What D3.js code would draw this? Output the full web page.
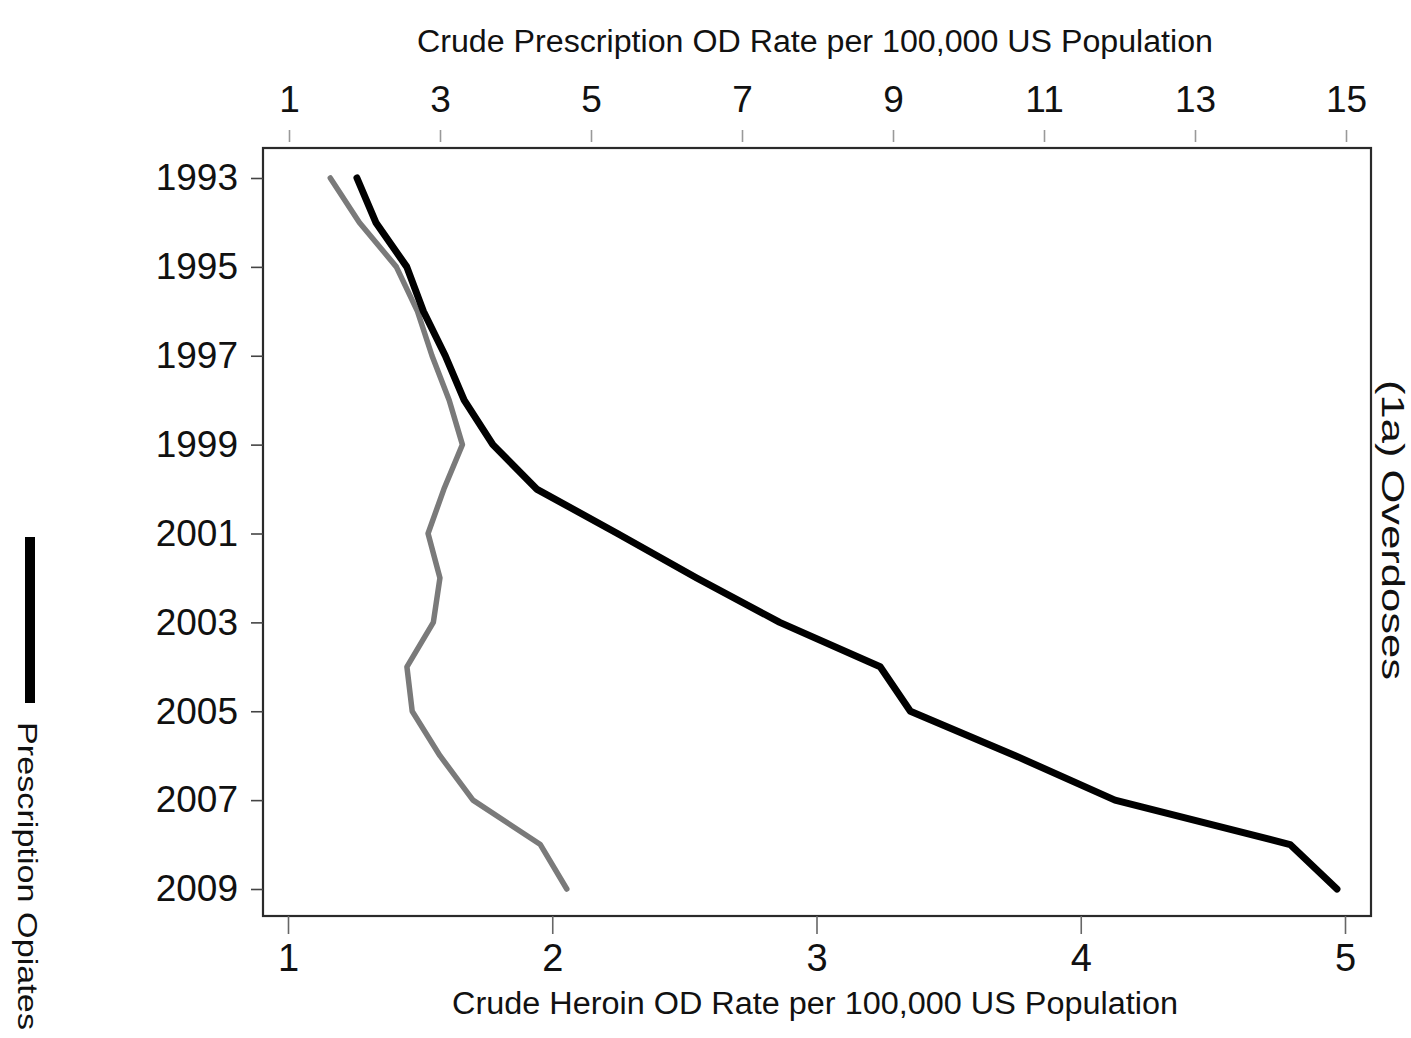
<!DOCTYPE html>
<html>
<head>
<meta charset="utf-8">
<script src="https://cdn.jsdelivr.net/npm/d3@7"></script>
<style>
  html, body { margin: 0; padding: 0; background: #fff; }
  svg { display: block; }
  text { font-family: "Liberation Sans", Arial, Helvetica, sans-serif; fill: #111; }
</style>
</head>
<body>
<svg id="chart" width="1411" height="1038"></svg>
<script>
// ---- data ----
const years = [1993, 1994, 1995, 1996, 1997, 1998, 1999, 2000, 2001, 2002, 2003, 2004, 2005, 2006, 2007, 2008, 2009];
const prescriptionRate = [1.90, 2.15, 2.56, 2.78, 3.07, 3.32, 3.70, 4.28, 5.35, 6.40, 7.50, 8.83, 9.23, 10.62, 11.94, 14.26, 14.88];
const heroinRate = [1.16, 1.27, 1.41, 1.49, 1.545, 1.61, 1.66, 1.59, 1.53, 1.575, 1.55, 1.45, 1.47, 1.575, 1.70, 1.955, 2.055];
const yearTicks = [1993, 1995, 1997, 1999, 2001, 2003, 2005, 2007, 2009];
const topTicks = [1, 3, 5, 7, 9, 11, 13, 15];
const bottomTicks = [1, 2, 3, 4, 5];
const topTitle = "Crude Prescription OD Rate per 100,000 US Population";
const bottomTitle = "Crude Heroin OD Rate per 100,000 US Population";
const sideTitle = "(1a) Overdoses";
const legendLabel = "Prescription Opiates";

// ---- layout ----
const svg = d3.select("#chart");
svg.append("rect").attr("width", 1411).attr("height", 1038).attr("fill", "#fff");

const box = { left: 263, right: 1371, top: 148, bottom: 916 };
const xTop = d3.scaleLinear().domain([1, 15]).range([289, 1346]);
const xBot = d3.scaleLinear().domain([1, 5]).range([288, 1345]);
const y = d3.scaleLinear().domain([1993, 2009]).range([178, 889]);

const narrow = "'Liberation Sans Narrow', 'Liberation Sans', Arial, sans-serif";

// plot frame
svg.append("rect")
  .attr("x", box.left).attr("y", box.top)
  .attr("width", box.right - box.left).attr("height", box.bottom - box.top)
  .attr("fill", "none").attr("stroke", "#2a2a2a").attr("stroke-width", 2.2);

function styleAxis(g, size) {
  g.select(".domain").remove();
  g.selectAll(".tick line").attr("stroke", "#444").attr("stroke-width", 1.6);
  g.selectAll(".tick text").attr("font-size", size).attr("fill", "#111")
    .attr("font-family", "'Liberation Sans', Arial, sans-serif");
}

// left axis (years)
const gLeft = svg.append("g").attr("transform", `translate(${box.left},0)`)
  .call(d3.axisLeft(y).tickValues(yearTicks).tickFormat(d3.format("d")).tickSize(12).tickPadding(13));
styleAxis(gLeft, 37);

// top axis (prescription)
const gTop = svg.append("g").attr("transform", `translate(0,${box.top - 6})`)
  .call(d3.axisTop(xTop).tickValues(topTicks).tickFormat(d3.format("d")).tickSize(12).tickPadding(18));
styleAxis(gTop, 37);
gTop.selectAll(".tick line").attr("stroke", "#999");

// bottom axis (heroin)
const gBot = svg.append("g").attr("transform", `translate(0,${box.bottom})`)
  .call(d3.axisBottom(xBot).tickValues(bottomTicks).tickFormat(d3.format("d")).tickSize(18).tickPadding(10));
styleAxis(gBot, 38);
gBot.selectAll(".tick line").attr("stroke", "#666");

// axis titles
svg.append("text").attr("x", 815).attr("y", 52).attr("text-anchor", "middle")
  .attr("font-family", narrow).attr("fill", "#1a1a1a")
  .attr("font-size", 31).attr("textLength", 796).attr("lengthAdjust", "spacingAndGlyphs")
  .text(topTitle);
svg.append("text").attr("x", 815).attr("y", 1014).attr("text-anchor", "middle")
  .attr("font-family", narrow).attr("fill", "#1a1a1a")
  .attr("font-size", 31).attr("textLength", 726).attr("lengthAdjust", "spacingAndGlyphs")
  .text(bottomTitle);

// right side title (rotated)
svg.append("text").attr("transform", "translate(1382,530) rotate(90)")
  .attr("text-anchor", "middle").attr("font-size", 32)
  .attr("textLength", 300).attr("lengthAdjust", "spacingAndGlyphs")
  .text(sideTitle);

// left legend
svg.append("rect").attr("x", 25).attr("y", 537).attr("width", 10).attr("height", 166).attr("fill", "#000");
svg.append("text").attr("transform", "translate(18,876) rotate(90)")
  .attr("text-anchor", "middle").attr("font-size", 28)
  .attr("textLength", 308).attr("lengthAdjust", "spacingAndGlyphs")
  .text(legendLabel);

// lines
const heroinLine = d3.line().x((d, i) => xBot(heroinRate[i])).y(d => y(d));
const rxLine = d3.line().x((d, i) => xTop(prescriptionRate[i])).y(d => y(d));

svg.append("path").datum(years).attr("d", heroinLine)
  .attr("fill", "none").attr("stroke", "#7a7a7a").attr("stroke-width", 5.5)
  .attr("stroke-linejoin", "round").attr("stroke-linecap", "round");
svg.append("path").datum(years).attr("d", rxLine)
  .attr("fill", "none").attr("stroke", "#000").attr("stroke-width", 7)
  .attr("stroke-linejoin", "round").attr("stroke-linecap", "round");
</script>
</body>
</html>
